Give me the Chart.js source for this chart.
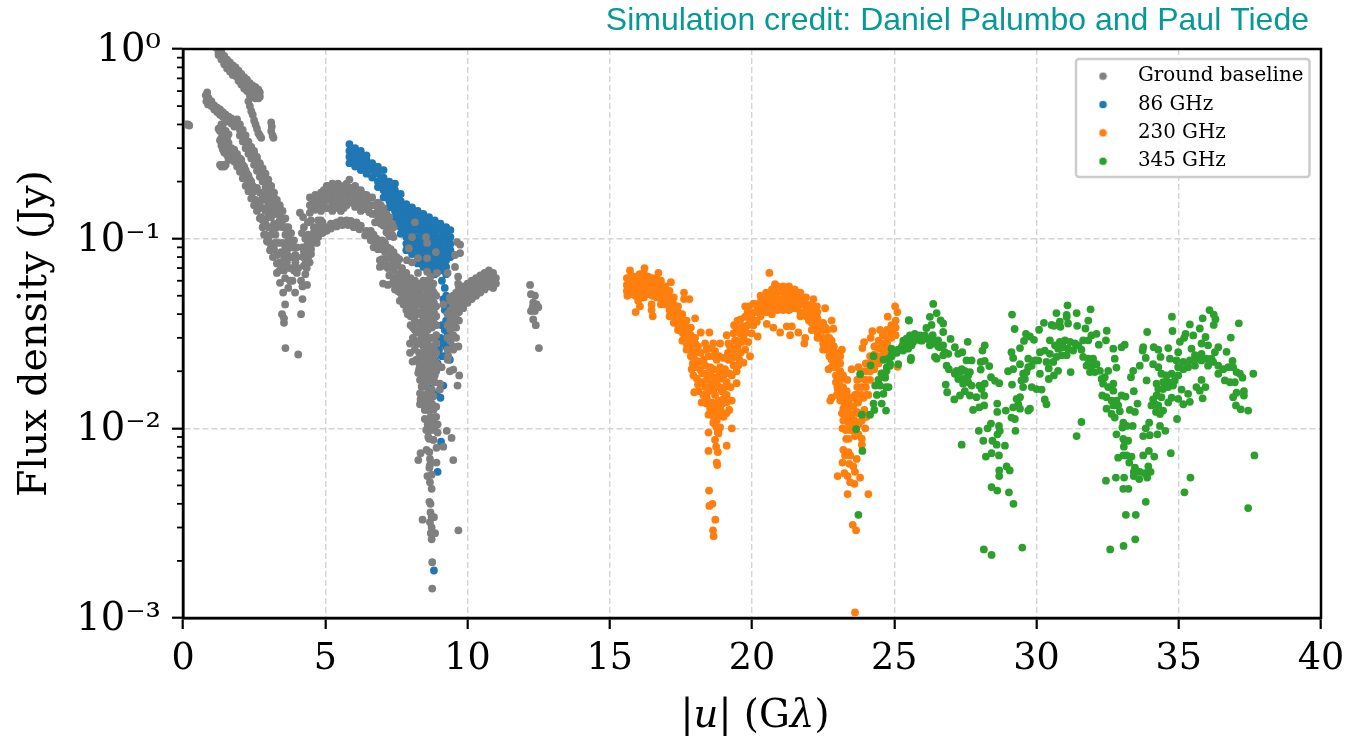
<!DOCTYPE html>
<html>
<head>
<meta charset="utf-8">
<script src="https://cdn.jsdelivr.net/npm/chart.js@4"></script>
<style>
html,body{margin:0;padding:0;background:#fff}
#wrap{position:relative;width:1356px;height:738px;overflow:hidden}
#xtitle{position:absolute;left:186px;width:1138px;top:690px;text-align:center;font:38.7px "DejaVu Serif";color:#000;line-height:48px}
</style>
</head>
<body>
<div id="wrap"><canvas id="c" width="1356" height="738"></canvas>
<div id="xtitle">|<i>u</i>| (G<i>λ</i>)</div></div>
<script>
const creditText = "Simulation credit: Daniel Palumbo and Paul Tiede";
const yAxisLabel = "Flux density (Jy)";
const seriesNames = ["Ground baseline","86 GHz","230 GHz","345 GHz"];
const seriesColors = ["#7f7f7f","#1f77b4","#ff7f0e","#2ca02c"];
const xTickValues = [0,5,10,15,20,25,30,35,40];
const yTickValues = [1,0.1,0.01,0.001];
const yTickLabels = ["10⁰","10⁻¹","10⁻²","10⁻³"];
const yMinorMultiples = [2,3,4,5,6,7,8,9];

const groundPoints = [
[0.1,.40],[.17,.40],[.22,.395],
[1.15,1.02],[1.25,.98],[1.25,.93],[1.35,.96],[1.35,.88],[1.45,.92],[1.45,.83],[1.55,.88],[1.55,.79],[1.65,.85],[1.65,.76],[1.75,.82],[1.75,.73],[1.85,.80],[1.85,.72],[1.85,.76],[1.95,.77],[1.95,.68],[1.95,.72],[2.05,.74],[2.05,.65],[2.05,.69],[2.15,.71],[2.15,.62],[2.15,.66],[2.25,.69],[2.25,.60],[2.25,.64],[2.35,.66],[2.35,.57],[2.35,.61],[2.45,.64],[2.45,.56],[2.45,.60],[2.55,.63],[2.55,.55],[2.55,.58],[2.65,.61],[2.65,.55],[2.65,.58],[2.7,.59],[2.7,.56],
[2.3,.53],[2.35,.50],[2.4,.47],[2.45,.45],[2.5,.42],[2.55,.40],[2.6,.38],[2.65,.36],[2.7,.35],[2.75,.34],
[3.1,.41],[3.12,.39],[3.1,.37],[3.15,.35],[3.18,.34],
[.8,.57],[.82,.53],[.85,.59],[.9,.55],[.88,.51],[.97,.53],[1.0,.50],
[1.1,.505],[1.2,.49],[1.3,.48],[1.4,.465],[1.5,.45],[1.6,.44],[1.7,.43],[1.8,.415],[1.9,.40],[2.0,.375],[2.1,.35],[2.2,.325],[2.3,.30],[2.4,.285],[2.5,.265],[2.6,.245],[2.7,.23],[2.8,.215],[2.9,.20],[3.0,.185],[3.1,.17],[3.2,.155],[3.3,.145],[3.4,.135],[3.5,.125],[3.6,.115],[3.7,.105],[3.8,.097],[3.9,.09],[3.95,.082],[3.95,.075],[3.9,.068],[3.85,.06],
[2.5,.28],[2.6,.26],[2.7,.245],[2.8,.225],[2.9,.21],[3.0,.195],[3.1,.18],[3.2,.165],[3.4,.145],
[1.35,.40],[1.3,.37],[1.4,.37],[1.5,.37],[1.35,.34],[1.45,.34],[1.55,.34],[1.35,.31],[1.45,.31],[1.55,.31],[1.45,.285],[1.6,.29],[1.65,.27],[1.6,.26],[1.4,.245],[1.5,.245],[1.35,.24],
[1.75,.28],[1.85,.275],[1.95,.26],[2.05,.24],[2.15,.22],[2.25,.205],[2.35,.19],[2.45,.175],[2.55,.16],[2.65,.145],[2.75,.13],[2.8,.115],[2.85,.105],[2.95,.097],[2.05,.26],[2.15,.24],[2.25,.22],[2.35,.205],[2.45,.19],
[2.6,.185],[2.7,.175],[2.8,.165],[2.9,.17],[3.0,.15],[2.7,.155],[2.8,.145],[2.9,.14],[3.0,.13],[3.1,.13],[2.9,.12],[3.0,.115],[3.1,.105],[3.2,.12],
[3,.096],[3.23,.095],[3.06,.087],[3.16,.08],[3.3,.074],[3.4,.068],[3.55,.068],[3.3,.066],[3.76,.08],[3.65,.085],[3.87,.09],
[3.41,.0585],[3.59,.062],[3.7,.055],[3.52,.052],[3.59,.045],[3.48,.04],[3.55,.038],[3.55,.036],[3.94,.052],[4.2,.048],[4.15,.04],[3.76,.06],[4.0,.066],[4.15,.06],[4.36,.057],[4.2,.056],[4.05,.07],
[3.6,.0265],[4.05,.0245],
[4.46,.165],[4.46,.15],[4.46,.137],[4.65,.17],[4.65,.155],[4.65,.142],[4.85,.175],[4.85,.163],[4.85,.15],[4.85,.14],[5.05,.19],[5.05,.175],[5.05,.16],[5.05,.145],[5.25,.195],[5.25,.18],[5.25,.165],[5.25,.15],[5.25,.14],[5.45,.195],[5.45,.18],[5.45,.165],[5.45,.15],[5.65,.19],[5.65,.175],[5.65,.16],[5.65,.145],[5.85,.205],[5.85,.185],[5.85,.17],[5.85,.155],[6.05,.19],[6.05,.175],[6.05,.16],[6.05,.147],[6.25,.18],[6.25,.165],[6.25,.152],[6.25,.14],[6.45,.17],[6.45,.155],[6.45,.143],[6.65,.165],[6.65,.15],[6.65,.135],[6.85,.155],[6.85,.14],[6.85,.125],[7.05,.145],[7.05,.13],[7.05,.117],[7.25,.13],[7.25,.115],[7.25,.103],[7.4,.115],[7.4,.102],
[4.22,.08],[4.3,.088],[4.36,.092],[4.45,.098],[4.58,.103],[4.75,.108],[4.9,.112],[5.05,.115],[5.2,.12],[5.4,.122],[5.55,.125],[5.75,.125],[5.9,.124],[6.1,.122],[6.25,.117],[6.45,.11],[6.6,.104],[6.8,.098],[7.0,.094],[7.17,.09],[7.35,.085],[7.5,.08],
[4.25,.072],[4.4,.08],[4.5,.088],[4.7,.095],[4.85,.125],[4.6,.115],[4.75,.125],[4.5,.125],[4.4,.105],[4.45,.075],[4.3,.065],[4.6,.108],
[4.11,.137],[4.22,.13],[4.39,.122],[4.18,.107],[4.25,.115],
[6.6,.11],[6.7,.105],[6.6,.10],[6.8,.10],[6.9,.095],[6.7,.09],[6.85,.088],[7.0,.088],[7.1,.085],[7.0,.078],[7.15,.078],[7.3,.08],[7.4,.074],[7.2,.07],
[7.4,.075],[7.4,.068],[7.4,.062],[7.55,.072],[7.55,.065],[7.55,.058],[7.55,.053],[7.7,.07],[7.7,.062],[7.7,.055],[7.7,.05],[7.85,.066],[7.85,.058],[7.85,.052],[7.85,.046],[7.85,.042],[8.0,.062],[8.0,.055],[8.0,.049],[8.0,.044],[8.0,.039],[8.0,.035],
[8.15,.06],[8.15,.053],[8.15,.047],[8.15,.042],[8.15,.037],[8.15,.033],[8.15,.029],[8.3,.058],[8.3,.052],[8.3,.046],[8.3,.041],[8.3,.036],[8.3,.032],[8.3,.028],[8.3,.025],[8.3,.022],[8.45,.055],[8.45,.049],[8.45,.043],[8.45,.038],[8.45,.034],[8.45,.030],[8.45,.027],[8.45,.024],[8.45,.021],
[8.6,.06],[8.6,.053],[8.6,.047],[8.6,.042],[8.6,.037],[8.6,.033],[8.6,.029],[8.6,.026],[8.6,.023],[8.6,.021],[8.75,.055],[8.75,.049],[8.75,.043],[8.75,.038],[8.75,.034],[8.75,.030],[8.75,.027],[8.75,.024],[8.75,.021],[8.75,.019],[8.9,.05],[8.9,.044],[8.9,.039],[8.9,.035],[8.9,.031],[8.9,.028],[8.9,.025],[8.9,.022],[8.9,.02],
[8.38,.05],[8.22,.045],[8.52,.04],[8.68,.035],[8.82,.03],[8.1,.052],[8.38,.028],[8.68,.025],[8.52,.025],[8.22,.036],[8.38,.04],[8.52,.032],
[8.15,.122],[8.05,.102],[8.54,.102],[8.58,.095],[7.94,.089],[8.89,.085],[8.58,.079],[8.26,.079],[8.05,.075],[7.87,.077],[8.93,.066],[8.58,.067],[8.26,.066],[8.7,.063],[9.3,.066],[8.8,.058],[8.45,.06],
[6.92,.077],[6.92,.071],[7.03,.058],[7.2,.057],[7.45,.054],[7.63,.052],[7.7,.048],[7.8,.045],
[9.63,.096],[9.74,.093],[9.74,.084],[9.56,.082],[9.56,.071],[9.38,.049],[9.15,.045],
[9.3,.040],[9.3,.035],[9.3,.030],[9.3,.026],[9.3,.023],[9.5,.05],[9.5,.045],[9.5,.040],[9.5,.035],[9.5,.031],[9.5,.027],[9.7,.055],[9.7,.05],[9.7,.045],[9.7,.041],[9.7,.037],[9.85,.056],[9.85,.052],[9.85,.047],[9.85,.043],[10.0,.058],[10.0,.054],[10.0,.05],[10.0,.046],[10.15,.06],[10.15,.056],[10.15,.052],[10.15,.048],[10.3,.062],[10.3,.058],[10.3,.054],[10.3,.05],[10.45,.064],[10.45,.06],[10.45,.056],[10.45,.052],[10.6,.066],[10.6,.062],[10.6,.058],[10.6,.054],[10.75,.068],[10.75,.064],[10.75,.06],[10.75,.056],[10.9,.066],[10.9,.062],[10.9,.058],[10.9,.055],[11.0,.062],[11.0,.058],[9.67,.063],[9.67,.058],
[7.98,.028],[7.98,.025],[8.07,.0225],[8.15,.026],[8.2,.023],
[8.27,.0196],[8.33,.018],[8.39,.0166],[8.33,.0153],[8.45,.0148],[8.33,.0134],[8.5,.0137],[8.68,.0142],[8.74,.0188],[8.56,.0188],[8.5,.0172],[8.62,.016],[8.91,.021],[9.09,.021],[9.03,.0172],[9.03,.016],[9.38,.02],[9.5,.0204],[9.71,.019],[9.65,.0168],[9.68,.027],[9.5,.026],[9.32,.024],[8.4,.02],[8.4,.0185],[8.55,.02],[8.65,.0185],[8.42,.015],
[8.5,.0125],[8.65,.0125],[8.8,.0125],[8.9,.013],[8.9,.0115],[8.5,.0112],[8.65,.011],[8.8,.0108],[8.95,.0105],[8.55,.0098],[8.7,.0098],[8.85,.0098],[8.95,.0095],[8.65,.0088],[8.8,.0087],
[9.27,.0097],[9.44,.0089],[8.62,.009],[8.8,.0087],[8.91,.0079],[9.15,.008],[8.56,.0077],[8.66,.0075],[8.35,.0074],[8.27,.0068],[9.5,.0068],[8.68,.0069],[8.91,.0066],[8.68,.0064],[8.66,.0062],[8.59,.0056],[8.74,.0057],[8.68,.0052],[8.74,.0048],[8.66,.0041],[8.7,.004],[8.7,.0036],[8.74,.0034],[8.42,.0033],[8.82,.0034],[8.68,.0032],[8.74,.003],[8.86,.0028],[8.71,.0028],[8.74,.0026],[9.68,.0029],[8.76,.00197],[8.76,.00143],
[12.2,.057],[12.23,.051],[12.37,.050],[12.31,.046],[12.43,.045],[12.29,.0435],[12.49,.0435],[12.23,.0415],[12.37,.0415],[12.31,.0375],[12.4,.035],[12.51,.0265]
];
const groundDensePoints = [
[1.9,.425],[2.0,.40],[2.1,.375],[2.2,.35],[2.3,.325],[2.4,.305],[2.5,.29],[2.6,.27],[2.7,.25],[2.8,.235],[2.9,.22],[3.0,.205],[3.1,.19],[3.2,.175],[3.3,.16],[3.4,.15],[3.5,.14],[3.6,.128],[3.7,.115],[3.8,.107],[3.9,.098],[4.0,.09],[4.0,.08],
[2.0,.35],[2.1,.325],[2.2,.30],[2.3,.28],[2.4,.265],[2.5,.245],[2.6,.228],[2.7,.212],[2.8,.2],[2.9,.185],[3.0,.17],[3.1,.157],[3.2,.145],[3.3,.135],[3.4,.125],[3.5,.115],[3.6,.105],[3.7,.097],[3.8,.09],[3.85,.08],[3.85,.07],
[1.7,.30],[1.8,.295],[1.9,.28],[2.0,.265],[2.1,.245],[2.2,.23],[2.3,.215],[2.4,.2],[2.5,.185],
[1.8,.255],[1.9,.24],[2.0,.225],[2.1,.208],[2.2,.19],[2.3,.178],[2.4,.163],[2.5,.15],[2.6,.14],[2.7,.128],[2.8,.125],[2.9,.105],[3.0,.098],[3.1,.09],[3.2,.088],[3.3,.082],[3.4,.075],[3.5,.072],
[2.9,.16],[3.0,.14],[3.1,.145],[3.2,.135],[3.15,.115],[3.25,.105],[3.3,.115],[3.35,.095],[3.45,.085],[3.5,.095],[3.6,.09],[3.55,.08],[3.65,.075],[3.75,.07],
[1.0,.53],[1.1,.48],[1.2,.465],[1.3,.45],[1.4,.44],[1.5,.425],[1.6,.415],[1.7,.405],[1.8,.39],
[1.25,.38],[1.4,.40],[1.3,.33],[1.4,.325],[1.5,.325],[1.5,.355],[1.4,.355],[1.6,.355],[1.6,.32],[1.35,.325],[1.4,.295],[1.5,.30],[1.55,.275],[1.7,.28],[1.45,.24],[1.3,.245],
[1.25,.955],[1.35,.92],[1.45,.875],[1.55,.835],[1.65,.805],[1.75,.775],[2.6,.60],[2.5,.61],
[4.55,.16],[4.55,.145],[4.75,.165],[4.75,.15],[4.95,.18],[4.95,.165],[4.95,.15],[5.15,.19],[5.15,.175],[5.15,.16],[5.15,.145],[5.35,.19],[5.35,.175],[5.35,.16],[5.35,.145],[5.55,.185],[5.55,.17],[5.55,.155],[5.55,.14],[5.75,.195],[5.75,.18],[5.75,.165],[5.75,.15],[5.95,.185],[5.95,.17],[5.95,.155],[6.15,.18],[6.15,.165],[6.15,.15],[6.35,.17],[6.35,.155],[6.35,.145],[6.55,.165],[6.55,.15],[6.55,.138],[6.75,.15],[6.75,.135],[6.75,.122],[6.95,.15],[6.95,.135],[6.95,.12],[7.15,.135],[7.15,.12],[7.15,.108],[7.35,.12],[7.35,.105],
[4.3,.078],[4.45,.09],[4.6,.098],[4.75,.102],[4.9,.107],[5.05,.11],[5.2,.113],[5.4,.116],[5.6,.118],[5.8,.118],[6.0,.115],[6.2,.112],[6.4,.104],[6.6,.098],[6.8,.092],[7.0,.088],
[4.2,.09],[4.3,.10],[4.35,.07],[4.5,.083],[4.55,.095],[4.65,.1],[4.7,.105],[4.25,.085],[4.4,.095],[4.8,.118],[4.9,.122],[4.7,.112],
[7.0,.098],[7.1,.095],[7.2,.09],[7.3,.088],[7.4,.085],[7.5,.08],[7.6,.078],[7.1,.072],[7.3,.072],[7.5,.073],[7.65,.066],[7.8,.062],[7.25,.064],[7.35,.058],[7.65,.058],[7.78,.054],[7.48,.06],[7.62,.047],[7.75,.045],[7.9,.04],[7.95,.042],
[8.08,.03],[8.08,.034],[8.08,.042],[8.08,.05],[8.08,.058],[7.93,.05],[7.93,.056],[7.93,.046],[8.22,.05],[8.22,.056],[8.22,.04],[8.22,.032],[8.22,.028],[8.38,.055],[8.38,.045],[8.38,.034],[8.38,.03],[8.38,.024],[8.38,.022],[8.52,.058],[8.52,.05],[8.52,.045],[8.52,.036],[8.52,.028],[8.52,.022],[8.68,.058],[8.68,.05],[8.68,.045],[8.68,.04],[8.68,.03],[8.68,.022],[8.68,.02],[8.82,.052],[8.82,.046],[8.82,.041],[8.82,.036],[8.82,.026],[8.82,.023],[8.82,.02],
[8.3,.0205],[8.5,.0195],[8.45,.0175],[8.6,.0175],[8.4,.0165],[8.55,.015],[8.65,.0148],[8.75,.016],[8.85,.0175],[8.85,.019],[8.35,.0142],[8.45,.0135],[8.6,.0135],[8.55,.0125],[8.75,.0135],[8.8,.0148],[8.7,.0115],[8.6,.0105],[8.75,.0103],
[9.4,.047],[9.4,.042],[9.4,.037],[9.4,.033],[9.4,.029],[9.6,.052],[9.6,.047],[9.6,.042],[9.6,.038],[9.6,.034],[9.6,.03],[9.78,.052],[9.78,.047],[9.78,.043],[9.93,.055],[9.93,.05],[9.93,.046],[10.08,.056],[10.08,.052],[10.08,.048],[10.22,.058],[10.22,.054],[10.22,.05],[10.38,.06],[10.38,.056],[10.38,.052],[10.52,.062],[10.52,.058],[10.52,.054],[10.68,.064],[10.68,.06],[10.68,.056],[10.83,.066],[10.83,.062],[10.83,.058]
];

const ghz86Points = [
[5.85,.315],[5.85,.29],[5.85,.27],[5.85,.25],[6.05,.30],[6.05,.28],[6.05,.26],[6.05,.24],[6.25,.29],[6.25,.27],[6.25,.25],[6.25,.23],[6.45,.275],[6.45,.26],[6.45,.24],[6.45,.22],[6.65,.25],[6.65,.23],[6.65,.21],[6.85,.24],[6.85,.22],[6.85,.2],[6.85,.187],[7.05,.23],[7.05,.21],[7.05,.195],[7.05,.18],[7.05,.165],[7.25,.2],[7.25,.187],[7.25,.172],[7.25,.158],[7.25,.146],[7.45,.195],[7.45,.18],[7.45,.165],[7.45,.152],[7.45,.14],[7.45,.13],[7.45,.12],
[7.65,.172],[7.65,.158],[7.65,.146],[7.65,.135],[7.65,.125],[7.65,.115],[7.65,.106],[7.85,.152],[7.85,.14],[7.85,.13],[7.85,.12],[7.85,.111],[7.85,.102],[7.85,.094],[7.85,.087],[8.05,.146],[8.05,.135],[8.05,.125],[8.05,.115],[8.05,.106],[8.05,.098],[8.05,.09],[8.05,.083],[8.25,.14],[8.25,.13],[8.25,.12],[8.25,.111],[8.25,.102],[8.25,.094],[8.25,.087],[8.25,.08],[8.25,.074],
[8.45,.135],[8.45,.125],[8.45,.115],[8.45,.106],[8.45,.098],[8.45,.09],[8.45,.083],[8.45,.077],[8.45,.071],[8.65,.13],[8.65,.12],[8.65,.111],[8.65,.102],[8.65,.094],[8.65,.087],[8.65,.08],[8.65,.074],[8.65,.068],[8.85,.125],[8.85,.115],[8.85,.106],[8.85,.098],[8.85,.09],[8.85,.083],[8.85,.077],[8.85,.071],[8.85,.065],
[9.05,.12],[9.05,.111],[9.05,.102],[9.05,.094],[9.05,.087],[9.05,.08],[9.05,.074],[9.05,.068],[9.25,.115],[9.25,.106],[9.25,.098],[9.25,.09],[9.25,.083],[9.25,.077],[9.25,.071],[9.25,.065],[9.4,.111],[9.4,.102],[9.4,.094],[9.4,.087],[9.4,.08],
[9.1,.06],[9.2,.055],[9.25,.05],[9.15,.048],[9.3,.045],[9.2,.042],[9.35,.04],[9.25,.037],[9.1,.035],[9.2,.033],[9.3,.031],[9.05,.03],[9.15,.028],[9.25,.027],[9.0,.026],[9.1,.024],[9.2,.024],[8.85,.023],[8.95,.022],
[8.68,.0163],[8.91,.0152],[9.05,.0145],[8.8,.0148],[9.15,.0168],[9.07,.0085],[8.95,.0059],[8.82,.00178],[8.86,.0225],[9.38,.023],
[7.55,.16],[7.75,.15],[7.75,.125],[7.95,.13],[7.35,.165],[7.15,.18],[6.55,.245],[6.75,.225],[6.95,.21],[7.55,.135],[7.75,.11],[7.95,.1],[9.15,.11],[9.15,.09],[8.95,.1],[8.75,.09],[8.55,.11],[8.35,.1]
];

const ghz230Points = [
[15.6,.062],[15.6,.057],[15.6,.053],[15.75,.064],[15.75,.059],[15.75,.055],[15.75,.051],[15.9,.063],[15.9,.058],[15.9,.054],[15.9,.05],[16.05,.065],[16.05,.06],[16.05,.056],[16.05,.052],[16.05,.049],[16.2,.066],[16.2,.061],[16.2,.057],[16.2,.053],[16.2,.049],[16.35,.063],[16.35,.059],[16.35,.055],[16.35,.051],[16.5,.062],[16.5,.058],[16.5,.054],[16.5,.05],[16.65,.061],[16.65,.057],[16.65,.053],[16.65,.049],[16.8,.06],[16.8,.056],[16.8,.052],[16.8,.048],[16.8,.045],[16.95,.056],[16.95,.052],[16.95,.048],[16.95,.045],[17.1,.053],[17.1,.049],[17.1,.045],[17.1,.042],[17.1,.039],[17.25,.049],[17.25,.045],[17.25,.042],[17.25,.039],[17.25,.036],[17.4,.044],[17.4,.041],[17.4,.038],[17.4,.035],[17.4,.033],[17.55,.040],[17.55,.037],[17.55,.034],[17.55,.032],[17.55,.029],[17.7,.037],[17.7,.034],[17.7,.031],[17.7,.028],[17.7,.026],[17.85,.034],[17.85,.031],[17.85,.029],[17.85,.026],[17.85,.024],[18.0,.03],[18.0,.028],[18.0,.025],[18.0,.023],[18.0,.021],
[15.71,.068],[16.22,.07],[16.71,.066],[15.62,.05],[16.0,.047],[16.06,.044],[15.91,.041],[16.47,.045],[16.47,.042],[16.51,.039],[17.15,.059],[17.61,.052],[17.8,.048],[17.61,.048],[18.0,.038],[18.5,.032],[18.2,.032],[18.35,.028],[18.64,.028],[18.88,.028],[19.17,.028],[19.11,.031],[19.37,.035],[19.49,.037],
[17.88,.0205],[17.94,.019],[18.17,.0205],[18.35,.0215],[18.47,.024],[18.64,.024],[18.76,.023],[18.53,.021],[18.64,.0205],[18.88,.021],[19.05,.0205],[18.06,.0183],[18.23,.0175],[18.41,.018],[18.58,.0173],[18.76,.0175],[18.94,.0183],[19.11,.0175],[18.12,.0157],[18.29,.015],[18.47,.0157],[18.7,.015],[18.94,.0157],[19.11,.015],[17.97,.0155],[18.23,.0137],[18.41,.0145],[18.58,.0137],[18.82,.014],[19.0,.0143],[19.29,.014],[19.11,.0137],[18.53,.0127],[18.7,.012],[18.88,.0117],[18.47,.0118],[19.0,.0115],[18.76,.011],[18.64,.0107],[18.88,.0101],[18.76,.0101],[19.29,.01],[18.47,.0095],[18.82,.0094],[18.7,.0087],[19.11,.0081],[18.74,.008],[18.47,.0076],[18.8,.0075],[18.76,.0066],[18.78,.0064],[18.49,.0047],[18.5,.0039],[18.61,.004],[18.71,.0033],[18.63,.0029],[18.65,.0027],
[19.35,.0317],[19.46,.0335],[19.23,.027],[19.35,.026],[19.46,.029],[19.58,.0317],[19.64,.0285],[19.4,.024],[19.52,.0215],[19.35,.0215],[19.46,.02],[19.29,.019],[19.46,.0173],[19.17,.023],[19.7,.0222],[19.93,.024],[19.76,.026],[19.87,.0285],[20.2,.0305],[19.7,.0345],[19.76,.0388],[19.76,.044],[19.93,.0405],[20.17,.0365],[19.99,.0317],[19.85,.035],[19.6,.0375],[20.05,.0455],[20.28,.046],[20.52,.048],[20.75,.05],[20.28,.041],[20.52,.041],[20.1,.041],[20.52,.0355],[20.75,.034],[20.99,.032],[21.22,.0345],[21.4,.0345],[21.34,.031],[21.63,.032],[21.87,.03],[21.84,.028],[20.61,.066],[20.81,.0575],
[20.3,.05],[20.3,.046],[20.3,.042],[20.3,.039],[20.5,.052],[20.5,.048],[20.5,.045],[20.5,.041],[20.7,.054],[20.7,.05],[20.7,.046],[20.7,.043],[20.7,.04],[20.9,.056],[20.9,.052],[20.9,.048],[20.9,.045],[20.9,.042],[21.1,.056],[21.1,.052],[21.1,.048],[21.1,.045],[21.1,.042],[21.3,.056],[21.3,.052],[21.3,.049],[21.3,.045],[21.3,.042],[21.5,.054],[21.5,.05],[21.5,.046],[21.5,.043],[21.7,.052],[21.7,.048],[21.7,.045],[21.7,.041],[21.7,.039],[21.9,.049],[21.9,.045],[21.9,.042],[21.9,.039],[22.1,.045],[22.1,.042],[22.1,.039],[22.1,.036],[22.1,.033],[22.3,.041],[22.3,.038],[22.3,.035],[22.3,.032],[22.3,.03],[22.5,.036],[22.5,.033],[22.5,.03],[22.5,.028],[22.5,.026],[22.65,.033],[22.65,.03],[22.65,.028],[22.65,.026],[22.8,.029],[22.8,.027],[22.8,.025],[22.8,.023],[22.8,.021],[22.95,.025],[22.95,.023],[22.95,.021],[22.95,.019],[22.95,.0175],[23.1,.022],[23.1,.02],[23.1,.018],[23.1,.0165],[23.1,.015],
[22.16,.048],[22.57,.043],[22.28,.044],[22.8,.037],[22.86,.0335],[23.16,.026],[23.1,.024],[22.69,.0205],[23.5,.0205],
[22.8,.0145],[22.75,.014],[22.98,.015],[23.16,.0155],[23.33,.0157],[23.1,.014],[23.27,.0143],[23.45,.0145],[23.62,.015],[23.21,.0127],[23.39,.0127],[23.56,.013],[23.73,.0137],[23.92,.0145],[24.09,.015],[23.16,.012],[23.33,.0118],[23.51,.0118],[23.68,.0122],[23.21,.011],[23.39,.0107],[23.51,.0107],[23.86,.011],[24.03,.0115],[23.18,.01],[23.45,.0098],[23.74,.0093],[23.98,.01],[23.31,.0088],[23.86,.0088],[23.62,.0091],[23.86,.0082],[23.21,.0077],[23.39,.0075],[23.45,.0072],[23.27,.0072],[23.68,.0069],[23.18,.0066],[23.42,.0065],[23.56,.0063],[23.62,.0059],[23.01,.0056],[23.25,.0058],[23.36,.0056],[23.8,.0055],[23.45,.0052],[23.6,.0051],[23.36,.0045],[24.09,.0045],[23.54,.0031],[23.66,.0029],[23.62,.00107],
[23.7,.018],[23.7,.0165],[23.7,.015],[23.7,.0137],[23.85,.02],[23.85,.0183],[23.85,.0165],[23.85,.015],[24.0,.022],[24.0,.02],[24.0,.018],[24.0,.0165],[24.0,.015],[24.15,.024],[24.15,.022],[24.15,.02],[24.15,.018],[24.3,.027],[24.3,.0245],[24.3,.0225],[24.3,.0205],[24.45,.029],[24.45,.0265],[24.45,.024],[24.45,.022],[24.6,.031],[24.6,.028],[24.6,.026],[24.6,.024],[24.75,.033],[24.75,.03],[24.75,.028],[24.75,.0255],[24.9,.035],[24.9,.032],[24.9,.03],[25.05,.037],[25.05,.034],[25.05,.031],
[25.03,.044],[25.11,.041],[24.77,.0388],[24.23,.0325],[23.94,.0285],[24.17,.03],[23.88,.0265],[24.5,.033],[23.74,.021],[25.12,.0211]
];
const ghz230DensePoints = [
[18.1,.027],[18.2,.025],[18.3,.023],[18.4,.026],[18.55,.0265],[18.7,.0255],[18.85,.024],[19.0,.0235],[19.15,.025],[19.3,.0235],[18.15,.0225],[18.25,.0195],[18.4,.0195],[18.55,.019],[18.7,.0185],[18.85,.0195],[19.0,.019],[19.2,.0195],[18.1,.017],[18.35,.0165],[18.5,.0165],[18.65,.016],[18.85,.0165],[19.05,.0165],[19.25,.0165],[18.4,.0135],[18.65,.0135],[18.95,.0135],[19.2,.0125],[18.6,.0125],[18.75,.013],[18.9,.0125],[18.65,.0115],[18.8,.0115],[19.1,.012],[18.7,.0105],[18.8,.0095],
[19.5,.027],[19.6,.025],[19.55,.023],[19.4,.029],[19.7,.03],[19.8,.032],[19.6,.034],[19.9,.038],[20.0,.038],[20.05,.035],[20.1,.037],[19.9,.044],[20.15,.045],[20.2,.042],[19.85,.041],
[15.68,.059],[15.68,.055],[15.82,.061],[15.82,.057],[15.82,.053],[16.12,.063],[16.12,.055],[16.28,.06],[16.28,.052],[16.42,.06],[16.42,.052],[16.58,.056],[16.72,.055],[16.88,.054],[16.88,.05],[17.02,.05],[17.02,.046],[17.18,.047],[17.18,.041],[17.32,.043],[17.32,.038],[17.48,.039],[17.48,.034],[17.62,.035],[17.62,.03],[17.78,.032],[17.78,.027],[17.92,.029],[17.92,.025],[17.92,.022],
[20.4,.048],[20.4,.044],[20.6,.05],[20.6,.043],[20.8,.05],[20.8,.044],[21.0,.054],[21.0,.047],[21.2,.054],[21.2,.047],[21.4,.05],[21.4,.044],[21.6,.05],[21.6,.044],[21.8,.046],[21.8,.04],[22.0,.043],[22.0,.037],[22.2,.04],[22.2,.034],[22.4,.035],[22.4,.03],[22.58,.034],[22.58,.028],[22.72,.03],[22.72,.024],[22.88,.027],[22.88,.022],[23.02,.023],[23.02,.019],[23.02,.016],[23.2,.019],[23.2,.0165],[23.35,.018],[23.35,.0145],
[23.0,.0165],[23.25,.0135],[23.4,.0135],[23.55,.0145],[23.3,.0125],[23.45,.0115],[23.6,.011],[23.75,.012],[23.65,.0102],[23.3,.0098],[23.55,.0098],[23.4,.0088],[23.75,.0105],[23.95,.0125]
];

const ghz345Points = [
[24.39,.015],[24.62,.0152],[24.71,.0165],[24.8,.0165],[24.27,.0135],[24.56,.0135],[24.3,.0125],[24.71,.0124],[24.15,.0118],[23.86,.0118],[23.66,.0099],[23.88,.0076],[23.74,.0035],
[24.33,.0168],[24.5,.0168],[24.68,.0185],[24.56,.0195],[24.74,.021],[24.85,.022],[24.91,.024],[25.09,.025],[25.26,.0265],[25.5,.0275],[25.32,.029],[25.56,.0295],[25.79,.03],[25.97,.029],[25.52,.037],[25.59,.0235],[23.8,.0193],[24.27,.024],[24.17,.0215],[24.62,.023],
[24.44,.018],[24.55,.0194],[24.67,.0194],[24.73,.0201],[24.85,.0214],[24.79,.0233],[24.9,.0243],[25.02,.0257],[24.9,.0263],[25.14,.026],[25.14,.0218],[25.26,.0268],[25.37,.028],[25.31,.0257],[25.49,.0263],[25.58,.0229],[25.61,.0274],[25.43,.0297],[25.55,.0309],[25.72,.0315],[25.9,.0309],[26.08,.0309],[25.67,.0286],[25.9,.0291],[26.13,.0297],[26.25,.0291],[26.25,.0274],[26.43,.0286],[26.54,.0291],[26.6,.0268],[26.72,.0274],[26.78,.0252],[26.9,.0247],[26.72,.0243],[26.49,.0233],[26.43,.0238],[26.84,.0214],[26.92,.0205],[26.13,.0338],[26.31,.0351],[26.25,.0387],[26.37,.0453],[26.49,.0405],[26.63,.0371],[26.72,.0357],[26.72,.0322],[25.51,.0372],[26.98,.0296],[27.13,.0268],[27.25,.0247],[27.39,.0252],[27.58,.0286],[27.54,.0228],[27.72,.0228],[27.19,.0201],[27.37,.0205],
[27.13,.0194],[27.31,.0198],[27.48,.0201],[27.6,.019],[27.25,.0182],[27.42,.0182],[27.6,.0175],[27.42,.0172],[27.72,.0168],[27.66,.0198],[26.81,.017],[26.86,.0155],[27.11,.0142],[27.31,.0149],[27.48,.0157],[27.66,.0149],[27.89,.0146],[28.16,.0149],[27.77,.0125],[27.99,.0129],[28.16,.0132],[27.99,.0168],[28.18,.0172],[28.07,.0161],[28.04,.0204],[28.04,.0224],[28.18,.0227],[28.1,.0257],[28.18,.0274],[28.34,.0213],[28.4,.0186],[28.54,.0178],[28.69,.0173],
[28.62,.0135],[28.62,.0122],[28.92,.0124],[28.4,.0106],[28.28,.01],[27.97,.0097],[28.68,.0103],[28.71,.0097],[28.63,.0093],[28.13,.0086],[28.45,.0086],[28.6,.0082],[28.89,.0081],[27.37,.0082],[28.22,.0071],[28.42,.0074],[28.68,.0072],[28.69,.006],[28.95,.0063],[29.06,.006],[28.69,.0056],[28.42,.0049],[28.62,.0047],[29.03,.0046],[29.19,.004],[28.15,.0023],[28.42,.00215],[29.5,.00235],[29.26,.0097],
[29.12,.0114],[29.24,.0112],[29.18,.0129],[29.36,.0134],[29.3,.0143],[29.42,.0146],[29.53,.0165],[29.47,.0179],[29.59,.0182],[29.53,.0194],[29.65,.0198],[29.71,.021],[29.83,.0214],[29.71,.0233],[29.94,.0228],[30.06,.0228],[29.42,.0218],[29.18,.0205],[29.0,.02],[29.14,.017],[29.42,.0127],[29.77,.0127],[29.71,.0124],[30.29,.0142],[30.35,.0134],[29.83,.0165],[30.0,.0161],[30.18,.016],[30.12,.0194],[30.43,.0182],[30.61,.019],[30.76,.0201],[30.43,.0207],[30.35,.0224],[30.59,.0224],[30.12,.0252],[30.29,.0257],[30.47,.0247],[30.7,.0238],
[29.12,.0252],[29.18,.0235],[29.42,.0265],[29.56,.0289],[29.63,.0315],[29.77,.0305],[29.91,.0293],[30.09,.0331],[30.26,.036],[29.23,.0334],[29.14,.0398],
[30.47,.0291],[30.65,.0274],[30.82,.0286],[31.0,.0291],[31.18,.0286],[31.35,.028],[30.76,.0263],[30.94,.0268],[31.11,.0263],[31.29,.0257],[31.06,.0243],[30.88,.0243],[31.47,.0274],[31.58,.026],[31.64,.0291],[31.82,.0291],[31.93,.0309],[32.11,.0315],[32.44,.0291],[32.47,.0327],[32.19,.0276],[31.2,.0198],
[30.53,.0351],[30.61,.0347],[30.84,.0343],[30.82,.0365],[31.06,.0396],[31.06,.0386],[31.11,.0357],[30.7,.0405],[31.09,.0445],[31.41,.0405],[31.43,.0347],[31.72,.0336],[31.82,.037],[31.9,.0424],
[31.64,.0238],[31.82,.0233],[31.99,.0233],[31.76,.0214],[31.93,.0214],[32.11,.0218],[31.88,.0198],[32.05,.0198],[32.23,.0201],[32.29,.0182],[32.4,.0186],[32.52,.0201],[32.34,.0172],[32.52,.0165],[32.7,.0172],[32.7,.0158],[32.46,.0146],[32.64,.014],[32.81,.014],[32.7,.0132],[32.87,.0132],[32.46,.0127],[32.64,.0119],[32.75,.0114],[32.93,.0123],[32.75,.0233],[32.81,.0209],[32.7,.0263],[32.99,.0268],[33.1,.0276],[32.99,.0149],[33.13,.0147],[32.31,.0149],[31.58,.0108],[31.41,.0091],
[33.42,.0157],[33.55,.0135],[33.28,.0125],[33.46,.0122],[33.05,.0107],[33.17,.0103],[33.38,.0103],[33.02,.0101],[32.81,.0093],[33.05,.0088],[33.22,.0086],[33.1,.0086],[33.07,.008],[32.87,.007],[33.05,.0072],[33.17,.0072],[33.34,.0071],[33.26,.0066],[33.46,.0062],[33.42,.0059],[33.63,.0059],[33.42,.0056],[33.81,.0058],[34.01,.0059],[33.61,.0054],[33.89,.0055],[32.79,.0055],[33.08,.0055],[32.44,.0053],[33.05,.0048],[33.23,.0048],[33.84,.0041],[33.14,.0035],[33.49,.0035],[33.47,.0026],[32.59,.0023],[33.06,.0024],
[33.93,.0063],[33.75,.0072],[33.95,.0076],[34.14,.0071],[34.72,.0074],[35.41,.0055],[35.2,.0046],[37.66,.0072],[37.44,.0038],[33.75,.0091],[33.98,.0092],[34.25,.0093],[34.53,.0097],[33.84,.01],[34.34,.0103],[33.96,.0107],[34.94,.0112],[34.2,.0122],[34.34,.0119],[34.16,.0134],[34.04,.0132],[34.28,.0132],[34.45,.0124],
[34.1,.0142],[34.22,.0149],[34.39,.0146],[34.63,.0137],[34.75,.0145],[34.28,.0161],[34.45,.0161],[34.63,.0165],[34.8,.0168],[34.45,.0175],[34.63,.0175],[34.86,.0179],[34.22,.0172],[34.57,.019],[34.75,.0194],[34.98,.019],[34.39,.0194],[34.98,.021],[35.16,.0205],[35.33,.021],[34.92,.0228],[35.16,.0224],[35.39,.0228],[35.57,.0214],[35.62,.0233],[35.8,.0228],[35.98,.0233],[35.8,.0247],[35.57,.0243],[36.03,.0214],[36.21,.0224],[36.39,.0214],[36.56,.0205],[36.74,.021],[36.91,.021],[36.39,.0194],[36.15,.0233],[37.03,.0198],[37.15,.0194],[37.24,.0185],[37.62,.0194],
[35.1,.016],[35.16,.0134],[35.39,.0138],[35.33,.0152],[34.98,.0143],[35.62,.0165],[35.74,.0158],[35.94,.0165],[35.84,.0144],[35.8,.018],[36.62,.0179],[36.8,.0175],[36.97,.0175],[36.91,.0146],[37.03,.0154],[37.29,.0157],[37.29,.0149],[37.01,.0132],[37.18,.0126],[37.44,.0124],
[33.75,.0268],[33.73,.0257],[33.89,.0322],[33.84,.0235],[33.63,.0214],[33.4,.0201],[33.32,.0186],[33.87,.0179],[34.12,.0268],[34.28,.026],[34.36,.0238],[34.1,.0218],[34.28,.021],[34.63,.0265],[34.69,.0233],[34.98,.0252],[35.04,.0286],[35.19,.03],[35.24,.0315],[34.76,.0388],[34.78,.0326],[35.39,.0353],[35.51,.0309],[35.74,.0336],[35.94,.0303],[35.84,.038],[36.08,.042],[36.23,.0398],[36.29,.0376],[36.23,.0351],[36.03,.0274],[35.8,.028],[35.45,.0263],[36.39,.0268],[36.27,.0252],[36.68,.0253],[36.83,.0301],[37.11,.0358],[36.89,.0227],
[25.3,.0275],[25.75,.03],[26.0,.03],[26.35,.031],[26.4,.028],[26.55,.027]
];

const seriesPoints = [groundPoints.concat(groundDensePoints), ghz86Points, ghz230Points.concat(ghz230DensePoints), ghz345Points];
const drawOrder = [0,3,2,1];
const serif = "'DejaVu Serif'";

function legendDot(color){
  const k=document.createElement('canvas'); k.width=9;k.height=9;
  const g=k.getContext('2d'); g.fillStyle=color; g.beginPath(); g.arc(4.5,4.5,3.8,0,Math.PI*2); g.fill();
  return k;
}
const legendDots = seriesColors.map(legendDot);

const framePlugin = {
  id:'frame',
  beforeDraw(c){
    const lg=c.legend;
    lg.left=1069.5; lg.right=lg.left+lg.width; lg.top=57.75; lg.bottom=lg.top+lg.height;
    lg.draw=function(){};
    c.titleBlock.right=1309;
  },
  afterDatasetsDraw(c){
    const x=c.ctx, a=c.chartArea, ys=c.scales.y;
    x.save();
    x.strokeStyle='#000'; x.lineWidth=2.5;
    x.strokeRect(a.left,a.top,a.right-a.left,a.bottom-a.top);
    x.lineWidth=1.8;
    yTickValues.slice(0,-1).forEach(v=>yMinorMultiples.forEach(m=>{
      const p=ys.getPixelForValue(v/10*m);
      x.beginPath(); x.moveTo(a.left-6,p); x.lineTo(a.left,p); x.stroke();
    }));
    x.fillStyle='rgba(255,255,255,0.8)'; x.strokeStyle='#cccccc'; x.lineWidth=2.5;
    x.beginPath(); x.roundRect(1076,59,233.5,118,3); x.fill(); x.stroke();
    x.restore();
    delete c.legend.draw;
    c.legend.draw();
  }
};

new Chart(document.getElementById('c'),{
  type:'scatter',
  data:{datasets:seriesNames.map((n,i)=>({
    label:n,
    data:seriesPoints[i].map(p=>({x:p[0],y:p[1]})),
    backgroundColor:seriesColors[i],
    borderWidth:0,pointBorderWidth:0,pointRadius:3.9,order:drawOrder[i]
  }))},
  plugins:[framePlugin],
  options:{
    responsive:false,animation:false,devicePixelRatio:1,
    layout:{padding:{left:0,right:35,top:0,bottom:0}},
    plugins:{
      tooltip:{enabled:false},
      title:{display:true,text:creditText,align:'end',color:'#059a96',
        font:{family:"'Liberation Sans'",size:32,weight:'normal',lineHeight:1.2},padding:{top:2,bottom:8.6}},
      legend:{position:'chartArea',align:'start',
        labels:{usePointStyle:true,pointStyleWidth:50,boxHeight:5,padding:8.5,color:'#000',
          font:{family:serif,size:19.85,lineHeight:1.18},
          generateLabels:c=>c.data.datasets.map((d,i)=>({text:d.label,pointStyle:legendDots[i],fillStyle:seriesColors[i],strokeStyle:seriesColors[i],lineWidth:0,datasetIndex:i,fontColor:'#000'}))}}
    },
    scales:{
      x:{type:'linear',min:0,max:40,
        afterBuildTicks:s=>{s.ticks=xTickValues.map(v=>({value:v}));},
        afterFit:s=>{s.height=120;},
        grid:{color:'#d4d4d4',lineWidth:1.4,tickColor:'#000',tickWidth:2.2,tickLength:11},
        border:{display:true,color:'#000',width:2.5,dash:[6,3]},
        ticks:{color:'#000',font:{family:serif,size:36.5},padding:9,maxRotation:0,autoSkip:false,callback:v=>String(v)}
      },
      y:{type:'logarithmic',min:0.001,max:1,
        afterBuildTicks:s=>{s.ticks=yTickValues.map(v=>({value:v}));},
        afterFit:s=>{s.width=183;},
        grid:{color:'#d4d4d4',lineWidth:1.4,tickColor:'#000',tickWidth:2.2,tickLength:11},
        border:{display:true,color:'#000',width:2.5,dash:[6,3]},
        ticks:{color:'#000',font:{family:serif,size:38.5},padding:11,labelOffset:2,autoSkip:false,
          callback:v=>{const i=yTickValues.indexOf(v);return i<0?'':yTickLabels[i];}},
        title:{display:true,text:yAxisLabel,color:'#000',font:{family:serif,size:39.5,lineHeight:1.2},padding:{top:12,bottom:0}}
      }
    }
  }
});
</script>
</body>
</html>
